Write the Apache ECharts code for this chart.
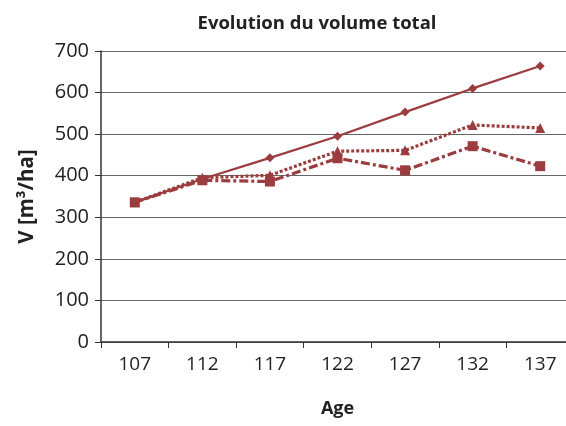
<!DOCTYPE html>
<html><head><meta charset="utf-8">
<script src="https://cdn.jsdelivr.net/npm/echarts@6/dist/echarts.min.js"></script>
<style>html,body{margin:0;padding:0;background:#fff}#c{width:566px;height:426px}</style>
</head><body><div id="c"></div>
<script>
const ages = ['107','112','117','122','127','132','137'];
const serieSolid = [336, 392, 443, 495, 553, 610, 664];
const serieDotted = [336, 395, 401, 459, 461, 522, 515];
const serieDashDot = [336, 389, 386, 442, 413, 471, 423];
const yTicks = [0, 100, 200, 300, 400, 500, 600, 700];

const col = '#9B3C3E';
const font = 'Open Sans';
const chart = echarts.init(document.getElementById('c'));
chart.setOption({
  animation: false,
  title: {text: 'Evolution du volume total', left: 312, top: 9, textAlign: 'center',
    textStyle: {fontFamily: font, fontSize: 18.5, fontWeight: 'bold', color: '#222'}},
  grid: {left: 101, width: 473, top: 51, height: 291, containLabel: false, outerBoundsMode: 'none'},
  xAxis: {type: 'category', data: ages, boundaryGap: true,
    name: 'Age', nameLocation: 'middle', nameGap: 58,
    nameTextStyle: {fontFamily: font, fontSize: 18, fontWeight: 'bold', color: '#222'},
    axisLine: {lineStyle: {color: '#333', width: 1.5}},
    axisTick: {show: true, length: 6, lineStyle: {color: '#333'}},
    axisLabel: {fontFamily: font, fontSize: 19, color: '#222', margin: 13}},
  yAxis: {type: 'value', min: yTicks[0], max: yTicks[yTicks.length-1], interval: 100,
    name: 'V [m³/ha]', nameLocation: 'middle', nameGap: 63, nameRotate: 90,
    nameTextStyle: {fontFamily: font, fontSize: 20.5, fontWeight: 'bold', color: '#222'},
    axisLine: {show: true, lineStyle: {color: '#333', width: 1.5}},
    axisTick: {show: true, length: 6, lineStyle: {color: '#333'}},
    axisLabel: {fontFamily: font, fontSize: 20, color: '#222', margin: 12},
    splitLine: {lineStyle: {color: '#666', width: 1.2}}},
  series: [
    {type: 'line', data: serieSolid, symbol: 'diamond', symbolSize: 9,
      lineStyle: {color: col, width: 2.2}, itemStyle: {color: col}},
    {type: 'line', data: serieDotted, symbol: 'triangle', symbolSize: 10,
      lineStyle: {color: col, width: 3.2, type: [3, 2]}, itemStyle: {color: col}},
    {type: 'line', data: serieDashDot, symbol: 'rect', symbolSize: 10,
      lineStyle: {color: col, width: 3.2, type: [9, 3, 3, 3]}, itemStyle: {color: col}}
  ]
});
</script></body></html>
